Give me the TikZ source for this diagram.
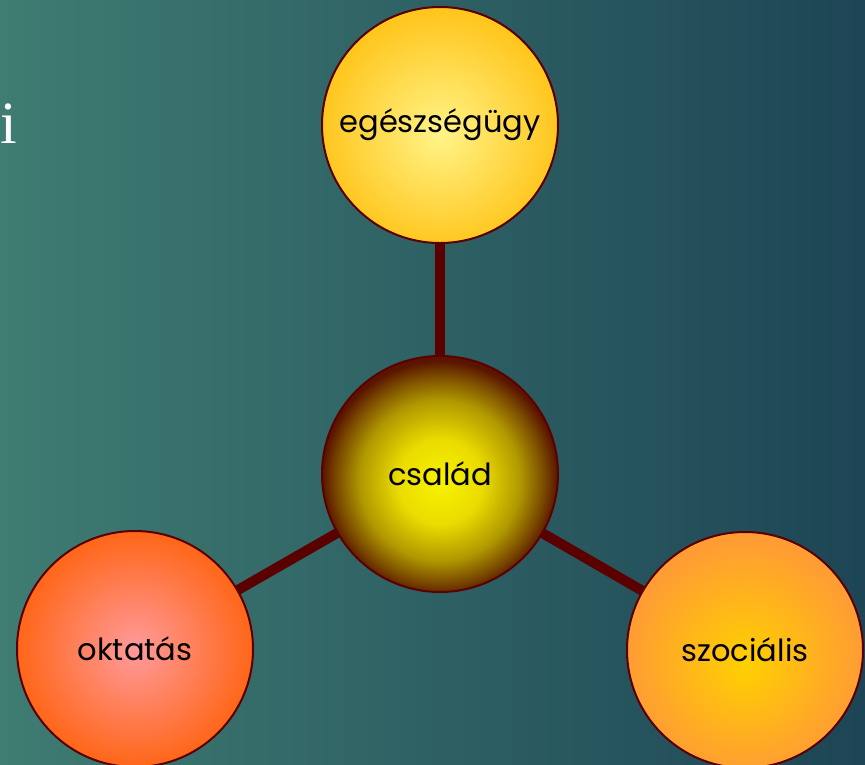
\documentclass[tikz,border=0pt]{standalone}
\usepackage{fontspec}
\setmainfont{Poppins}
\newfontfamily\seriffont{Liberation Serif}
\definecolor{bgL}{HTML}{3F7C72}
\definecolor{bgR}{HTML}{1D4555}
\definecolor{edge}{HTML}{5A0000}
\definecolor{topA}{HTML}{FFF488}
\definecolor{topB}{HTML}{FFC61E}
\definecolor{famA}{HTML}{F8F200}
\definecolor{famA2}{HTML}{EADC00}
\definecolor{famB}{HTML}{B09800}
\definecolor{famB2}{HTML}{7A4A00}
\definecolor{famC}{HTML}{5A1400}
\definecolor{oktA}{HTML}{FF9A9C}
\definecolor{oktB}{HTML}{FF6618}
\definecolor{szoA}{HTML}{FFD000}
\definecolor{szoB}{HTML}{FF9C34}
\pgfdeclareradialshading{topshade}{\pgfpoint{0bp}{-2bp}}{color(0bp)=(topA); color(25bp)=(topB); color(50bp)=(topB)}
\pgfdeclareradialshading{famshade}{\pgfpoint{0bp}{-2bp}}{color(0bp)=(famA); color(9bp)=(famA2); color(17bp)=(famB); color(22bp)=(famB2); color(25bp)=(famC); color(50bp)=(famC)}
\pgfdeclareradialshading{oktshade}{\pgfpoint{0bp}{0bp}}{color(0bp)=(oktA); color(25bp)=(oktB); color(50bp)=(oktB)}
\pgfdeclareradialshading{szoshade}{\pgfpoint{0bp}{-3bp}}{color(0bp)=(szoA); color(25bp)=(szoB); color(50bp)=(szoB)}
\pgfdeclarelayer{bglayer}
\pgfdeclarelayer{linelayer}
\pgfsetlayers{bglayer,linelayer,main}
\tikzset{
  bubble/.style={circle, draw=edge, line width=2pt, minimum size=236pt, inner sep=0pt,
    text=black, font=\fontsize{30.5}{33}\selectfont},
  conn/.style={draw=edge, line width=10pt}
}
\begin{document}
\begin{tikzpicture}[x=1pt,y=-1pt]
\useasboundingbox (0,0) rectangle (865,764);
\begin{pgfonlayer}{bglayer}
\shade[left color=bgL, right color=bgR] (0,0) rectangle (865,764);
\end{pgfonlayer}
\node[text=white, anchor=base, inner sep=0pt, font=\seriffont\fontsize{60}{60}\selectfont] (ichar) at (9,143) {i};
\node[bubble, shading=topshade] (egesz) at (440,125) {egészségügy};
\node[bubble, shading=famshade] (csalad) at (440,474) {család};
\node[bubble, shading=oktshade] (okt) at (135,649) {oktatás};
\node[bubble, shading=szoshade] (szoc) at (745,650) {szociális};
\begin{pgfonlayer}{linelayer}
\draw[conn] (csalad.center) -- (egesz.center);
\draw[conn] (csalad.center) -- (okt.center);
\draw[conn] (csalad.center) -- (szoc.center);
\end{pgfonlayer}
\end{tikzpicture}
\end{document}
